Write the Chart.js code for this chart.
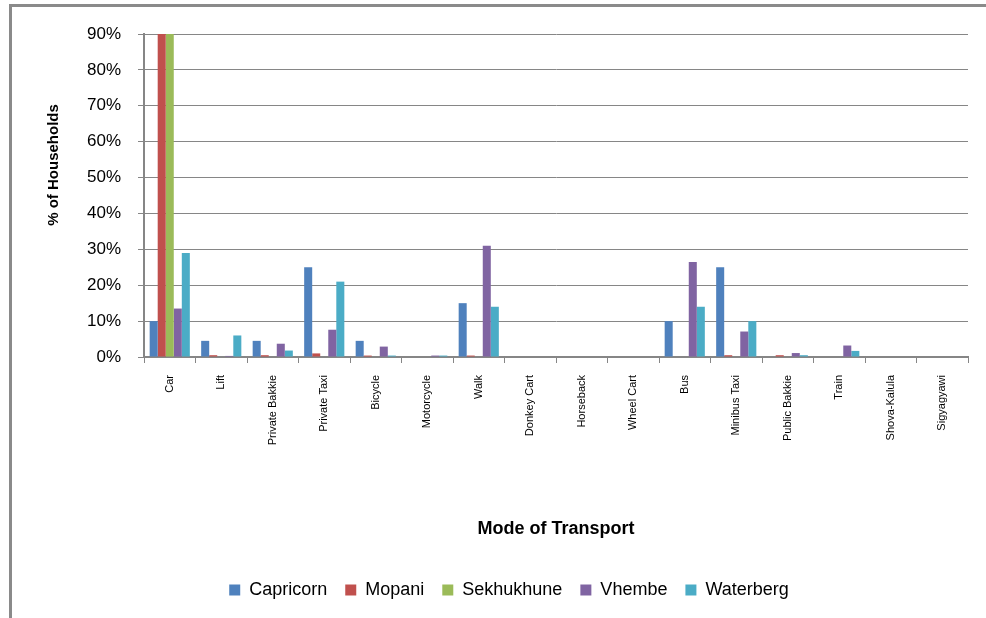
<!DOCTYPE html>
<html>
<head>
<meta charset="utf-8">
<script src="https://cdn.jsdelivr.net/npm/chart.js@4/dist/chart.umd.min.js"></script>
<style>
    html, body { margin: 0; padding: 0; background: #fff; }
    #wrap { width: 986px; height: 618px; position: relative; }
</style>
</head>
<body>
<div id="wrap"><canvas id="graphCanvas"></canvas></div>
<script>
// transport modes along the x axis
const modes = ['Car', 'Lift', 'Private Bakkie', 'Private Taxi', 'Bicycle', 'Motorcycle', 'Walk',
    'Donkey Cart', 'Horseback', 'Wheel Cart', 'Bus', 'Minibus Taxi', 'Public Bakkie', 'Train',
    'Shova-Kalula', 'Sigyagyawi'];

// % of households per district
const capricorn  = [10, 4.5, 4.5, 25, 4.5, 0, 15, 0, 0, 0, 10, 25, 0, 0, 0, 0];
const mopani     = [90, 0.5, 0.5, 1, 0.4, 0, 0.4, 0, 0, 0, 0, 0.5, 0.5, 0, 0, 0];
const sekhukhune = [90, 0, 0, 0, 0, 0, 0, 0, 0, 0, 0, 0, 0, 0, 0, 0];
const vhembe     = [13.5, 0.3, 3.7, 7.6, 2.9, 0.4, 31, 0, 0, 0, 26.5, 7.1, 1.1, 3.2, 0, 0];
const waterberg  = [29, 6, 1.8, 21, 0.4, 0.4, 14, 0, 0, 0, 14, 10, 0.5, 1.7, 0, 0];

const yTicks = [0, 10, 20, 30, 40, 50, 60, 70, 80, 90];
const yTitle = '% of Households';

const fontFamily = '"Liberation Sans", Arial, sans-serif';
Chart.defaults.font.family = fontFamily;
Chart.defaults.font.size = 12;
Chart.defaults.color = '#000';

// grey frame on the left and top edges, plus the y axis title
const framePlugin = {
    id: 'frame',
    beforeDraw(chart) {
        const ctx = chart.ctx;
        ctx.save();
        ctx.fillStyle = '#fff';
        ctx.fillRect(0, 0, chart.width, chart.height);
        ctx.strokeStyle = '#8a8a8a';
        ctx.lineWidth = 3;
        ctx.beginPath();
        ctx.moveTo(10.5, chart.height + 2);
        ctx.lineTo(10.5, 5.5);
        ctx.lineTo(chart.width + 2, 5.5);
        ctx.stroke();
        ctx.restore();
    },
    afterDraw(chart) {
        const ctx = chart.ctx;
        ctx.save();
        ctx.translate(54, 165);
        ctx.rotate(-Math.PI / 2);
        ctx.font = 'bold 15px ' + fontFamily;
        ctx.fillStyle = '#000';
        ctx.textAlign = 'center';
        ctx.textBaseline = 'middle';
        ctx.fillText(yTitle, 0, 0);
        ctx.restore();
    }
};

function showGraph() {
    const graphTarget = document.getElementById('graphCanvas');
    const colours = ['#4F81BD', '#C0504D', '#9BBB59', '#8064A2', '#4BACC6'];
    const names = ['Capricorn', 'Mopani', 'Sekhukhune', 'Vhembe', 'Waterberg'];
    const series = [capricorn, mopani, sekhukhune, vhembe, waterberg];

    const chartdata = {
        labels: modes,
        datasets: series.map((s, i) => ({
            label: names[i],
            data: s,
            backgroundColor: colours[i],
            borderWidth: 0,
            categoryPercentage: 0.78,
            barPercentage: 1.0
        }))
    };

    new Chart(graphTarget, {
        type: 'bar',
        data: chartdata,
        plugins: [framePlugin],
        options: {
            responsive: true,
            maintainAspectRatio: false,
            animation: false,
            layout: { padding: { left: 50, right: 18, top: 34, bottom: 9 } },
            plugins: {
                tooltip: { enabled: false },
                legend: {
                    position: 'bottom',
                    labels: {
                        boxWidth: 11,
                        boxHeight: 11,
                        padding: 18,
                        font: { size: 18 },
                        color: '#000'
                    }
                }
            },
            scales: {
                x: {
                    grid: {
                        offset: true,
                        drawOnChartArea: false,
                        drawTicks: true,
                        tickLength: 6,
                        color: '#868686',
                        lineWidth: 1
                    },
                    border: { color: '#868686', width: 2 },
                    ticks: {
                        minRotation: 90,
                        maxRotation: 90,
                        autoSkip: false,
                        padding: 12,
                        font: { size: 11 }
                    },
                    title: {
                        display: true,
                        text: 'Mode of Transport',
                        font: { size: 18, weight: 'bold' },
                        padding: { top: 4, bottom: 23 }
                    },
                    afterFit(scale) { scale.height = 206; }
                },
                y: {
                    min: 0,
                    max: 90,
                    afterBuildTicks(scale) {
                        scale.ticks = yTicks.map(v => ({ value: v }));
                    },
                    ticks: {
                        padding: 17,
                        font: { size: 17 },
                        callback: v => v + '%'
                    },
                    grid: {
                        color: '#868686',
                        lineWidth: 1,
                        tickLength: 6
                    },
                    border: { color: '#868686', width: 2 },
                    afterFit(scale) { scale.width = 94; }
                }
            }
        }
    });
}

showGraph();
</script>
</body>
</html>
